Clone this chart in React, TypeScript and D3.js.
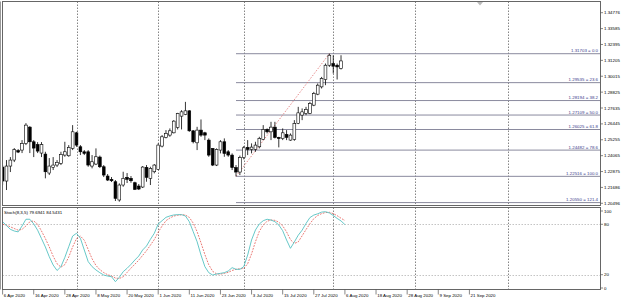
import React from "react";
import * as d3 from "d3";

const W = 623;
const H = 302;

// ---- data ----
const startDate = "2020-04-06";
const opens = [1.23211,1.22164,1.23286,1.23735,1.24446,1.24483,1.24969,1.26203,1.25104,1.24894,
1.24259,1.24184,1.22763,1.23189,1.23361,1.23488,1.24109,1.24057,1.2461,1.25777,
1.2473,1.24356,1.24356,1.23286,1.23436,1.23959,1.23234,1.22538,1.22291,1.22112,
1.20743,1.21865,1.22441,1.22366,1.22037,1.2179,1.21715,1.23189,1.22366,1.2286,
1.23039,1.24782,1.25433,1.25605,1.25777,1.26181,1.27026,1.27153,1.27423,1.25927,
1.25029,1.25979,1.25777,1.25231,1.2461,1.23361,1.24483,1.25104,1.24356,1.24109,
1.23174,1.22837,1.23922,1.24685,1.24535,1.24535,1.2473,1.25283,1.26031,1.25852,
1.26203,1.25433,1.25343,1.25657,1.25231,1.25283,1.2648,1.27101,1.27228,1.27228,
1.27849,1.28672,1.29218,1.29771,1.30841,1.30968,1.30841,1.30594];
const highs = [1.23361,1.23735,1.23959,1.24633,1.24558,1.25231,1.26503,1.26278,1.25231,1.25081,
1.25081,1.24356,1.23885,1.23959,1.23735,1.24356,1.25104,1.24857,1.26353,1.25852,
1.24857,1.24483,1.24483,1.24109,1.2461,1.24072,1.23361,1.22688,1.22463,1.22239,
1.21992,1.2286,1.22763,1.22538,1.22112,1.2194,1.23286,1.23361,1.23234,1.23436,
1.24984,1.25605,1.25979,1.26106,1.26727,1.27273,1.27475,1.28096,1.27475,1.25979,
1.26226,1.26779,1.25852,1.25358,1.2461,1.2461,1.25231,1.25358,1.24483,1.24236,
1.23361,1.24072,1.24782,1.25231,1.24984,1.25104,1.25478,1.26353,1.26106,1.266,
1.266,1.25478,1.26106,1.25979,1.25732,1.26727,1.27722,1.27602,1.27722,1.28096,
1.28844,1.29472,1.29966,1.30968,1.31703,1.31589,1.30968,1.31589];
const lows = [1.21865,1.21491,1.22837,1.23585,1.24259,1.24259,1.24857,1.24259,1.23959,1.24259,
1.23959,1.22366,1.22613,1.22987,1.23211,1.23361,1.23982,1.23982,1.24483,1.2473,
1.24109,1.24109,1.23234,1.23114,1.23361,1.23137,1.22463,1.22164,1.22089,1.20668,
1.20616,1.21738,1.22015,1.22037,1.21491,1.21491,1.21641,1.22112,1.21865,1.2274,
1.22987,1.24685,1.25358,1.25478,1.25732,1.26031,1.26031,1.27101,1.25852,1.24984,
1.24483,1.25478,1.25231,1.23982,1.23286,1.23286,1.24236,1.23982,1.23982,1.22987,
1.22516,1.22613,1.23787,1.24109,1.24236,1.24356,1.2461,1.25231,1.25732,1.25231,
1.25358,1.24685,1.25231,1.25231,1.25179,1.25179,1.26428,1.26727,1.27101,1.27176,
1.27774,1.28597,1.29098,1.29345,1.30714,1.3022,1.29771,1.30519];
const closes = [1.22164,1.23286,1.23735,1.2452,1.24333,1.24969,1.26353,1.25104,1.24633,1.24408,
1.24894,1.2286,1.23286,1.23361,1.23563,1.24161,1.24356,1.24685,1.25852,1.24857,
1.24356,1.24236,1.23361,1.23608,1.23982,1.23234,1.22613,1.22239,1.22187,1.2087,
1.21865,1.22366,1.22291,1.22187,1.21543,1.21566,1.23211,1.22441,1.23114,1.23361,
1.24857,1.25478,1.25732,1.25927,1.26652,1.27228,1.27348,1.27423,1.25927,1.25104,
1.25979,1.25605,1.25605,1.24109,1.23361,1.24535,1.25104,1.24236,1.24109,1.23174,
1.22837,1.23922,1.24655,1.24535,1.24707,1.24857,1.25358,1.26031,1.25852,1.26203,
1.25433,1.25343,1.25777,1.25433,1.25605,1.2648,1.27273,1.27348,1.27527,1.27976,
1.28724,1.29345,1.29846,1.30841,1.31589,1.30766,1.30714,1.31163];

const stochMain = [83,78.5,74,72,71,78,86,86,80.5,73,
63,53,41.4,31.5,25,29.6,40.6,53.3,66,69.3,
63.3,49.4,35.6,29.6,25.6,22.4,19.6,18.4,17.6,11.7,
16.9,23.6,27.6,32.3,37.5,42.2,49.4,54.2,62.1,69.3,
80.4,84.3,88.3,89.9,91.1,91.5,91.5,89.9,83.1,71.2,
59.3,43.4,29.6,22.4,19.6,20.8,21.6,22.4,24.4,28.4,
26.4,26.4,29.6,43.4,61.3,73.2,80.4,84.3,86,85.1,
83.1,79.2,72.4,61.3,51.4,59,67,73,81,88,
91,92.5,94.5,95,93.5,90.5,87,84,79.7];
const stochSignal = [80,79,77,75,73,74,78,83,84,80,
72,63,53,42,33,29,32,41,53,63,
66,61,50,39,31,26,22.5,20,18.5,16,
15.5,17.5,22.7,27.8,32.5,37.3,43,48.6,55.2,61.9,
70.6,78,84.3,87.5,89.8,90.8,91.4,91,88.2,81.4,
71.2,58,44,31.8,24,21,20.7,21.6,22.8,25,
26.4,27,27.5,33.1,44.8,59.3,71.6,79.3,83.6,85.1,
84.7,82.5,78.2,71,61.7,57.2,59.1,66.3,73.7,80.7,
86.7,90.5,92.7,94,94.3,92.7,90.3,87.2,84.5];
const stochLabel = "Stoch(8,3,5) 79.6941 84.5431";

const priceTicks = [1.20496,1.21686,1.22875,1.24065,1.25255,1.26445,1.27635,1.28825,1.30015,1.31205,1.32395,1.33585,1.34776];
const fibRatios = ["0.0","23.6","38.2","50.0","61.8","78.6","100.0","121.4"];
const fibPrices = [1.31703,1.29535,1.28194,1.27109,1.26025,1.24482,1.22516,1.2055];
const fibFromBar = 60; // swing low
const fibToBar = 84;   // swing high
const stochLevels = [80, 20];
const stochAxisTicks = [100, 80, 20, 0];
const gridDates = ["2020-05-01","2020-06-01","2020-07-01","2020-08-03","2020-09-01","2020-10-05"];
const labelEvery = 8;
const labelCount = 16;

// ---- layout ----
const L = 2.5, R = 600.5;
const mainTop = 1.5, mainBot = 205.5;
const stTop = 207.5, stBot = 289.5;
const FONT = "'Liberation Sans', Arial, sans-serif";
const FS = 4.4;

export default function App() {
  const fmt = d3.timeFormat("%Y-%m-%d");
  const days = d3.timeDay
    .range(new Date(startDate + "T00:00:00"), new Date("2020-11-30T00:00:00"))
    .filter((d) => d.getDay() !== 0 && d.getDay() !== 6);
  const dayIndex = new Map(days.map((d, i) => [fmt(d), i]));

  const x = d3.scaleLinear().domain([0, 128]).range([2.6, 2.6 + 3.89 * 128]);
  const y = d3.scaleLinear().domain([1.20496, 1.34776]).range([203.3, 12.7]);
  const ys = d3.scaleLinear().domain([0, 100]).range([291.5, 207.5]);

  const candles = opens.map((o, i) => ({ i, o, h: highs[i], l: lows[i], c: closes[i] }));
  const line = d3.line<number>().x((_, i) => x(i)).y((v) => ys(v));
  const bw = 2.8;

  const labelIdx = d3.range(0, labelCount).map((k) => k * labelEvery);
  const lblFmt = d3.timeFormat("%-d %b %Y");

  return (
    <div style={{ position: "fixed", left: 0, top: 0, width: W, height: H, background: "#fff" }}>
      <svg width={W} height={H} style={{ display: "block" }} fontFamily={FONT}>
        <defs>
          <clipPath id="cm"><rect x={L} y={mainTop} width={R - L} height={mainBot - mainTop} /></clipPath>
          <clipPath id="cs"><rect x={L} y={stTop} width={R - L} height={stBot - stTop} /></clipPath>
        </defs>
        <rect x={0} y={0} width={W} height={H} fill="#fff" />

        {/* vertical grid */}
        {gridDates.map((g) => {
          const gx = Math.round(x(dayIndex.get(g) as number)) + 0.5;
          return (
            <g key={g} stroke="#666" strokeWidth={0.8} strokeDasharray="1.5,1.5">
              <line x1={gx} x2={gx} y1={mainTop} y2={mainBot} />
              <line x1={gx} x2={gx} y1={stTop} y2={stBot} />
            </g>
          );
        })}

        {/* stoch levels */}
        {stochLevels.map((v) => (
          <line key={v} x1={L} x2={R} y1={Math.round(ys(v)) + 0.5} y2={Math.round(ys(v)) + 0.5}
            stroke="#aaa" strokeWidth={0.7} strokeDasharray="1.5,1.5" />
        ))}

        {/* fibonacci */}
        <g clipPath="url(#cm)">
          {fibPrices.map((p, k) => (
            <g key={k}>
              <line x1={x(fibFromBar)} x2={R} y1={y(p)} y2={y(p)} stroke="#8a8a9e" strokeWidth={1} />
              <text x={R - 2.5} y={y(p) - 1.4} fontSize={FS} fill="#3a3a8a" textAnchor="end">
                {p.toFixed(5)} = {fibRatios[k]}
              </text>
            </g>
          ))}
          <line x1={x(fibFromBar)} y1={y(lows[fibFromBar])} x2={x(fibToBar)} y2={y(highs[fibToBar])}
            stroke="#e07070" strokeWidth={0.8} strokeDasharray="1.5,1.5" />
        </g>

        {/* candles */}
        <g clipPath="url(#cm)">
          {candles.map((d) => {
            const cx = x(d.i);
            const bull = d.c >= d.o;
            const top = y(Math.max(d.o, d.c));
            const bot = y(Math.min(d.o, d.c));
            return (
              <g key={d.i}>
                <line x1={cx} x2={cx} y1={y(d.h)} y2={y(d.l)} stroke="#000" strokeWidth={0.8} />
                <rect x={cx - bw / 2} y={top} width={bw} height={Math.max(0.6, bot - top)}
                  fill={bull ? "#fff" : "#000"} stroke="#000" strokeWidth={0.6} />
              </g>
            );
          })}
        </g>

        {/* stochastic */}
        <g clipPath="url(#cs)" fill="none">
          <path d={line(stochSignal) || ""} stroke="#e5554f" strokeWidth={0.8} strokeDasharray="1.8,1.2" />
          <path d={line(stochMain) || ""} stroke="#56c2c2" strokeWidth={0.9} />
        </g>
        <text x={4} y={214} fontSize={FS} fill="#000">{stochLabel}</text>

        {/* frames */}
        <line x1={0.5} x2={0.5} y1={mainTop} y2={stBot} stroke="#999" strokeWidth={1} />
        <rect x={L} y={mainTop} width={R - L} height={mainBot - mainTop} fill="none" stroke="#666" strokeWidth={1} />
        <rect x={L} y={stTop} width={R - L} height={stBot - stTop} fill="none" stroke="#666" strokeWidth={1} />

        {/* shift marker */}
        <path d="M477,2 L483,2 L480,5.5 Z" fill="#bbb" />

        {/* price axis */}
        {priceTicks.map((p) => (
          <g key={p}>
            <line x1={R} x2={R + 2.5} y1={y(p)} y2={y(p)} stroke="#555" strokeWidth={0.7} />
            <text x={R + 3.5} y={y(p) + 1.5} fontSize={FS} fill="#000">{p.toFixed(5)}</text>
          </g>
        ))}

        {/* stoch axis */}
        {stochAxisTicks.map((v) => {
          const ty = Math.min(Math.max(ys(v), 211), 288);
          return (
            <g key={v}>
              <line x1={R} x2={R + 2.5} y1={ty} y2={ty} stroke="#555" strokeWidth={0.7} />
              <text x={R + 3.5} y={ty + 1.5} fontSize={FS} fill="#000">{v}</text>
            </g>
          );
        })}

        {/* time axis */}
        {labelIdx.map((i) => {
          const tx = x(i);
          return (
            <g key={i}>
              <line x1={tx} x2={tx} y1={stBot} y2={stBot + 5} stroke="#555" strokeWidth={0.7} />
              <text x={tx + 1.2} y={297} fontSize={FS} fill="#000">{lblFmt(days[i])}</text>
            </g>
          );
        })}
      </svg>
    </div>
  );
}
